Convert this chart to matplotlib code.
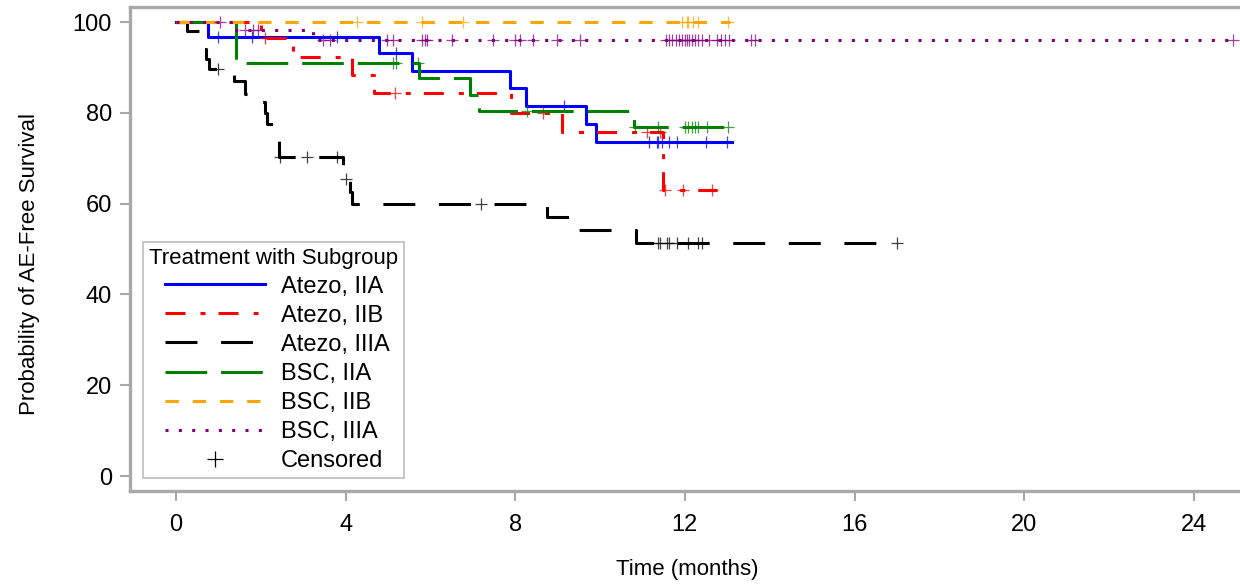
import numpy as np
import matplotlib
matplotlib.use('Agg')
import matplotlib.pyplot as plt
from matplotlib.lines import Line2D
from matplotlib.legend_handler import HandlerLine2D

plt.rcParams['font.family'] = ['Liberation Sans', 'DejaVu Sans']
plt.rcParams['lines.scale_dashes'] = False

# --- Kaplan-Meier step data (time in months, survival in %) ---
labels = ['Atezo, IIA', 'Atezo, IIB', 'Atezo, IIIA', 'BSC, IIA', 'BSC, IIB', 'BSC, IIIA']

atezo_iia_t = [0, 0.75, 4.79, 5.57, 7.88, 8.25, 9.67, 9.9, 13.1]
atezo_iia_s = [100, 96.8, 93.2, 89.3, 85.5, 81.6, 77.5, 73.5, 73.5]
atezo_iia_c = [1.0, 1.8, 3.8, 5.2, 9.15, 11.16, 11.34, 11.37, 11.46, 11.63, 11.82, 12.5, 13.0]

atezo_iib_t = [0, 2.0, 2.76, 4.15, 4.67, 7.9, 9.1, 11.49, 12.75]
atezo_iib_s = [100, 96.5, 92.3, 88.3, 84.4, 80.0, 75.8, 63.0, 63.0]
atezo_iib_c = [2.1, 5.17, 8.66, 11.1, 11.42, 11.53, 11.96, 12.64]

atezo_iiia_t = [0, 0.26, 0.6, 0.72, 0.78, 1.37, 1.63, 1.95, 2.1, 2.14, 2.38, 2.42,
                3.94, 4.1, 4.15, 8.75, 9.4, 10.85, 17.0]
atezo_iiia_s = [100, 98.0, 94.0, 91.9, 89.6, 87.0, 84.1, 82.4, 80.0, 77.6, 73.9, 70.3,
                65.4, 62.6, 59.9, 57.1, 54.2, 51.3, 51.3]
atezo_iiia_c = [1.0, 2.45, 3.1, 3.8, 4.0, 7.2, 11.37, 11.42, 11.58, 11.63, 11.82, 12.08,
                12.31, 12.41, 17.0]

bsc_iia_t = [0, 1.42, 5.72, 6.93, 7.15, 10.8, 13.02]
bsc_iia_s = [100, 91.0, 87.7, 83.9, 80.4, 76.9, 76.9]
bsc_iia_c = [5.12, 5.2, 5.7, 8.28, 10.83, 11.37, 12.0, 12.08, 12.17, 12.24, 12.31,
             12.52, 13.02]

bsc_iib_t = [0, 13.07]
bsc_iib_s = [100, 100]
bsc_iib_c = [4.27, 5.8, 6.77, 11.93, 12.05, 12.08, 12.19, 12.31, 13.02]

bsc_iiia_t = [0, 1.3, 3.23, 25.0]
bsc_iiia_s = [100, 98.2, 96.0, 96.0]
bsc_iiia_c = [1.04, 1.63, 1.82, 1.93, 3.47, 3.63, 4.98, 5.12, 5.8, 5.87, 5.92, 6.5,
              7.48, 8.0, 8.11, 8.42, 8.99, 9.53, 11.55, 11.62, 11.7, 11.8, 11.87, 11.93,
              12.0, 12.05, 12.1, 12.17, 12.24, 12.3, 12.4, 12.58, 12.76, 12.85, 12.94,
              13.04, 13.55, 13.65, 24.93]

x_ticks = [0, 4, 8, 12, 16, 20, 24]
y_ticks = [0, 20, 40, 60, 80, 100]

series = [
    (atezo_iia_t, atezo_iia_s, atezo_iia_c, '#0000ff', None),
    (atezo_iib_t, atezo_iib_s, atezo_iib_c, '#ff0000', (14.4, 10.8, 3.6, 9.4)),
    (atezo_iiia_t, atezo_iiia_s, atezo_iiia_c, '#000000', (23, 17)),
    (bsc_iia_t, bsc_iia_s, bsc_iia_c, '#008000', (30, 10)),
    (bsc_iib_t, bsc_iib_s, bsc_iib_c, '#ffa500', (9.6, 10)),
    (bsc_iiia_t, bsc_iiia_s, bsc_iiia_c, '#800080', (2.2, 7.4)),
]


def surv_at(times, surv, t):
    idx = np.searchsorted(times, t, side='right') - 1
    return np.asarray(surv)[idx]


fig = plt.figure(figsize=(12.4, 5.84), dpi=100)
ax = fig.add_axes([0.1048, 0.1584, 0.8952, 0.8288])

handles = []
for (t, s, c, col, dash), lab in zip(series, labels):
    kw = {} if dash is None else {'dashes': dash}
    ln, = ax.step(t, s, where='post', color=col, lw=2.2, label=lab, **kw)
    handles.append(ln)
    ax.plot(c, surv_at(t, s, c), linestyle='none', marker='+', ms=9, mew=0.9,
            color=col, alpha=0.75)

handles.append(Line2D([], [], color='black', marker='+', linestyle='none',
                      ms=11, mew=0.9, label='Censored'))

ax.set_xlim(-1.085, 25.09)
ax.set_ylim(-3.4, 103.2)
ax.set_xticks(x_ticks)
ax.set_yticks(y_ticks)

spine_col = '#a8a8a8'
for side in ['left', 'bottom', 'top']:
    ax.spines[side].set_color(spine_col)
    ax.spines[side].set_linewidth(2.4)
ax.spines['right'].set_visible(False)
ax.tick_params(axis='both', colors=spine_col, width=1.5, length=7, labelsize=17,
               labelcolor='black')
ax.tick_params(axis='x', pad=9)
ax.tick_params(axis='y', pad=6)

ax.set_xlabel('Time (months)', fontsize=16)
ax.set_ylabel('Probability of AE-Free Survival', fontsize=16)
ax.xaxis.set_label_coords(0.502, -0.139)
ax.yaxis.set_label_coords(-0.081, 0.47)

leg = ax.legend(handles=handles, title='Treatment with Subgroup', loc='lower left',
                bbox_to_anchor=(0.0117, 0.0279), borderaxespad=0, fontsize=17,
                title_fontsize=16, alignment='left', fancybox=False, framealpha=1,
                edgecolor='#c8c8c8', handlelength=4.9, handletextpad=0.7,
                labelspacing=0.3, borderpad=0.25,
                handler_map={Line2D: HandlerLine2D(xpad=0.7)})
leg.get_frame().set_linewidth(1.5)

fig.savefig('out.png', dpi=100)
